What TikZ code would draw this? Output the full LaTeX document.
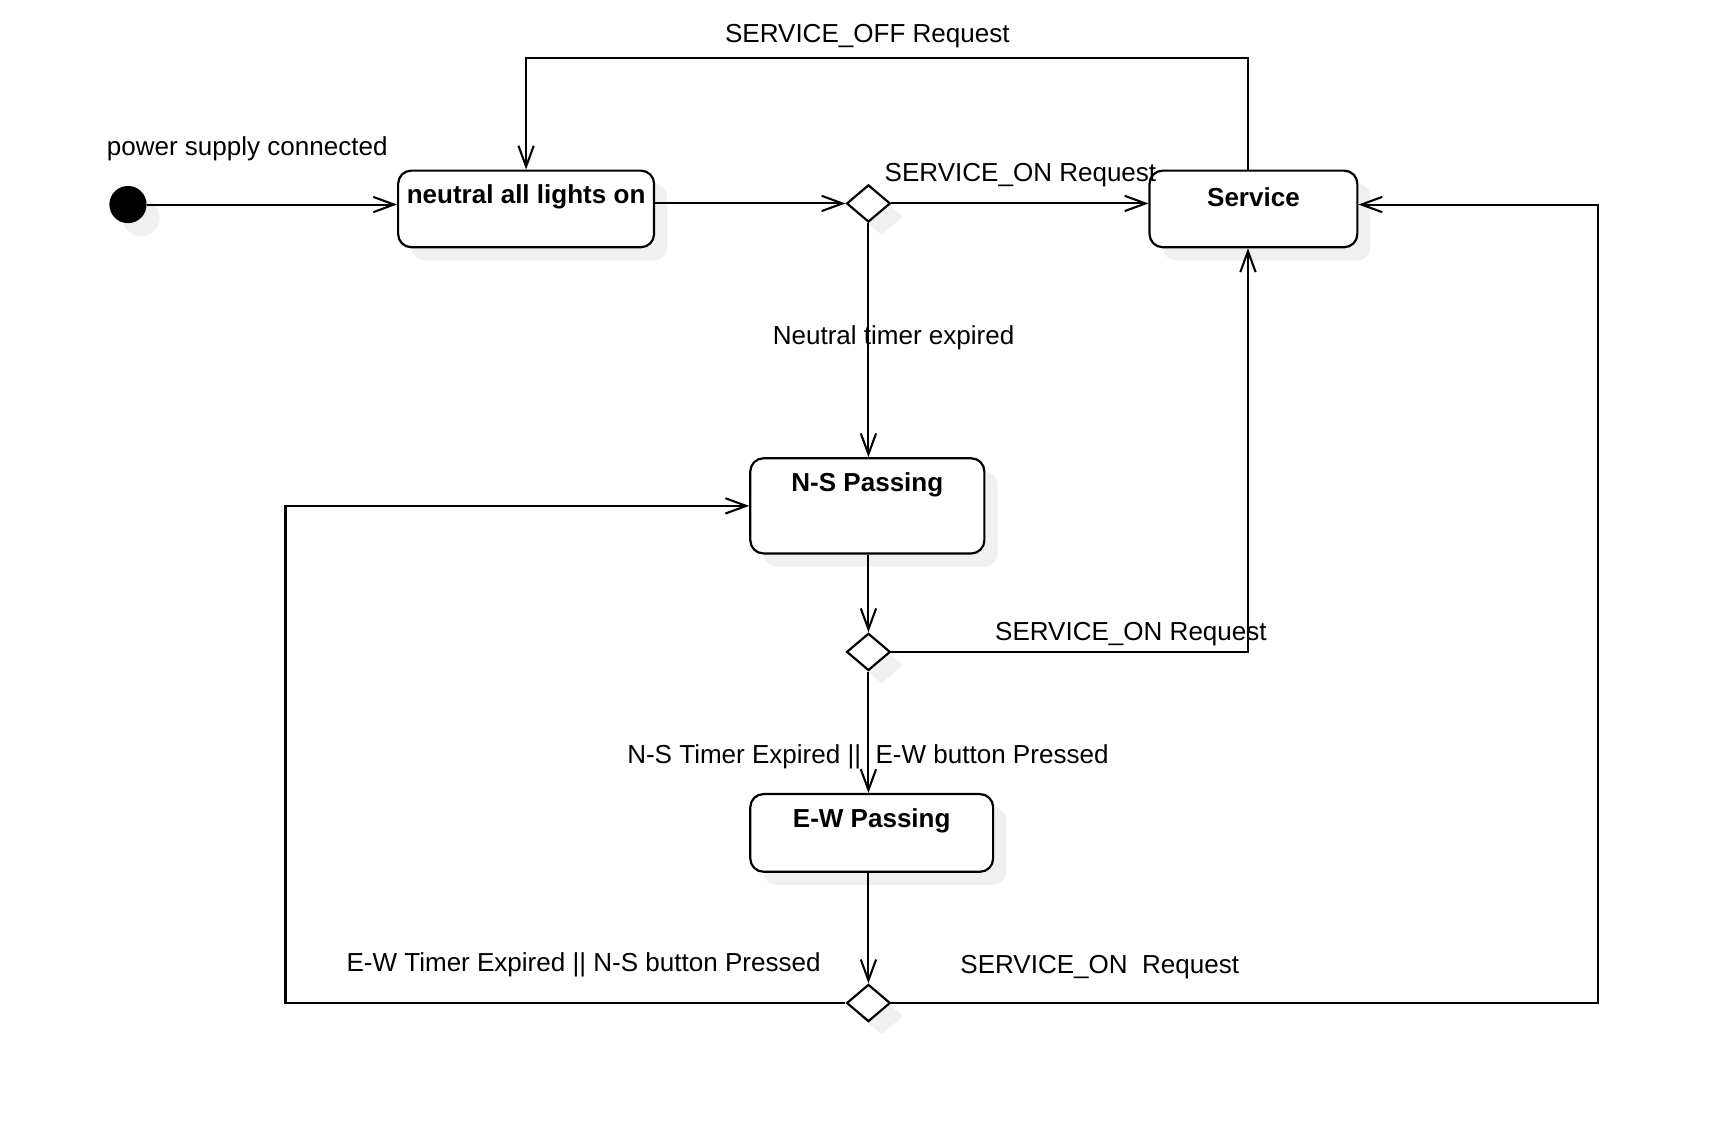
\documentclass[tikz,border=0pt]{standalone}
\usepackage{fontspec}
\setmainfont{Liberation Sans}
\usetikzlibrary{arrows.meta, positioning, shapes.geometric, shadows}
\tikzset{%
	soft shadow/.style={
		drop shadow={shadow xshift=6pt, shadow yshift=-6pt, fill=black!6, opacity=1}
	},
	statebox/.style={
		draw,
		line width=1pt,
		rounded corners=6pt,
		fill=white,
		soft shadow,
		inner sep=0pt
	},
	choice/.style={
		diamond,
		draw,
		line width=1pt,
		fill=white,
		minimum width=20pt,
		minimum height=17pt,
		inner sep=0pt,
		soft shadow
	},
	startdot/.style={
		circle,
		fill=black,
		minimum size=17pt,
		inner sep=0pt,
		soft shadow
	},
	trans/.style={
		line width=0.95pt,
		-{Straight Barb[length=9.5pt,width=7pt]}
	},
	guard/.style={font=\fontsize{11.9}{14}\selectfont},
	title/.style={font=\fontsize{11.9}{14}\selectfont\bfseries, anchor=center, yshift=-12.5pt},
}

\begin{document}
\begin{tikzpicture}[x=0.5pt, y=-0.5pt]
			\fill[white] (0,0) rectangle (1568,1025);
			
			% Draw the start dot and the states
			\node[startdot] (init) at (117,187) {};
			\node[statebox, minimum width=117pt, minimum height=35pt, label={[title]north:neutral all lights on}] (neutral) at (481,191) {};
			\node[statebox, minimum width=95pt, minimum height=35pt, label={[title]north:Service}] (service) at (1146,191) {};
			\node[statebox, minimum width=107pt, minimum height=43.5pt, label={[title]north:N-S Passing}] (ns) at (793,462.5) {};
			\node[statebox, minimum width=111pt, minimum height=35.5pt, label={[title]north:E-W Passing}] (ew) at (797,761.5) {};
			
			% Draw the choice points
			\node[choice] (d1) at (794,186) {};
			\node[choice] (d2) at (794,596) {};
			\node[choice] (d3) at (794,917) {};
			
			% Bends of the long transitions
			\coordinate (off1) at (1141,53);
			\coordinate (off2) at (481,53);
			\coordinate (on1) at (1141,596);
			\coordinate (back1) at (261,917);
			\coordinate (on2) at (1461,917);
			\coordinate (on3) at (1461,187);
			
			% Draw the transitions
			\draw[trans] (init) -- (init -| neutral.west);
			\draw[trans] (d1 -| neutral.east) -- (d1.west);
			\draw[trans] (d1.east) -- (d1 -| service.west);
			\draw[trans] (service.north -| off1) -- (off1) -- (off2) -- (neutral.north);
			\draw[trans] (d1.south) -- (d1.south |- ns.north);
			\draw[trans] (d2.north |- ns.south) -- (d2.north);
			\draw[trans] (d2.east) -- (on1) -- (on1 |- service.south);
			\draw[trans] (d2.south) -- (d2.south |- ew.north);
			\draw[trans] (d3.north |- ew.south) -- (d3.north);
			\draw[trans] (d3.west) -- (back1) -- (back1 |- ns.west) -- (ns.west);
			\draw[trans] (d3.east) -- (on2) -- (on3) -- (on3 -| service.east);
			
			% Guards
			\node[guard] (lpower) at (226,136) {power supply connected};
			\node[guard] (loff) at (793,33) {SERVICE\_OFF Request};
			\node[guard] (lon1) at (933,160) {SERVICE\_ON Request};
			\node[guard] (lneutral) at (817,309) {Neutral timer expired};
			\node[guard] (lon2) at (1034,580) {SERVICE\_ON Request};
			\node[guard] (lns) at (793.5,692) {N-S Timer Expired ||\ \ E-W button Pressed};
			\node[guard] (lew) at (533.5,882) {E-W Timer Expired || N-S button Pressed};
			\node[guard] (lon3) at (1005.5,884) {SERVICE\_ON\ \ Request};
			
		\end{tikzpicture}
\end{document}
